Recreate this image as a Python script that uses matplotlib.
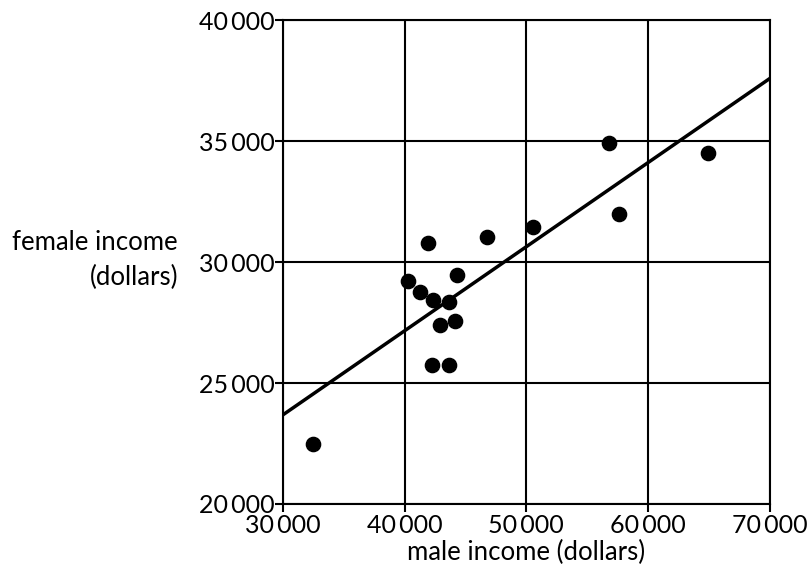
import numpy as np
import matplotlib
matplotlib.use("Agg")
import matplotlib.pyplot as plt
from matplotlib.ticker import FuncFormatter

# male vs female income
male_income = [32460, 40270, 41250, 41910, 42320, 42900, 42240, 43630,
               43630, 44130, 44290, 46760, 50530, 56780, 57600, 64910]
female_income = [22480, 29215, 28760, 30785, 28430, 27400, 25740, 28350,
                 25740, 27560, 29460, 31030, 31450, 34920, 31980, 34500]

x_ticks = [30000, 40000, 50000, 60000, 70000]
y_ticks = [20000, 25000, 30000, 35000, 40000]

plt.rcParams['font.family'] = ['Lato', 'DejaVu Sans']

fig = plt.figure(figsize=(8.11, 5.75), dpi=100)
ax = fig.add_axes([0.349, 0.1235, 0.6, 0.8415])

# least squares line
slope, intercept = np.polyfit(male_income, female_income, 1)
xs = np.array([x_ticks[0], x_ticks[-1]])
ax.plot(xs, intercept + slope * xs, color='black', lw=2.5, zorder=3)

ax.scatter(male_income, female_income, s=105, color='black', zorder=4)

ax.set_xlim(x_ticks[0], x_ticks[-1])
ax.set_ylim(y_ticks[0], y_ticks[-1])
ax.set_xticks(x_ticks)
ax.set_yticks(y_ticks)

fmt = FuncFormatter(lambda v, p: f"{int(v):,}".replace(",", "\u2009"))
ax.xaxis.set_major_formatter(fmt)
ax.yaxis.set_major_formatter(fmt)

ax.grid(True, color='black', lw=1.5)
for s in ax.spines.values():
    s.set_linewidth(1.5)
ax.tick_params(direction='out', length=6, width=1.5, labelsize=18, pad=0)
ax.tick_params(axis='x', pad=1)

ax.set_xlabel('male income (dollars)', fontsize=18.5, labelpad=2)
fig.text(178 / 811, 1 - 260 / 575, 'female income\n(dollars)', fontsize=18.5,
         ha='right', va='center', multialignment='right', linespacing=1.5)

fig.savefig('out.png', dpi=100)
